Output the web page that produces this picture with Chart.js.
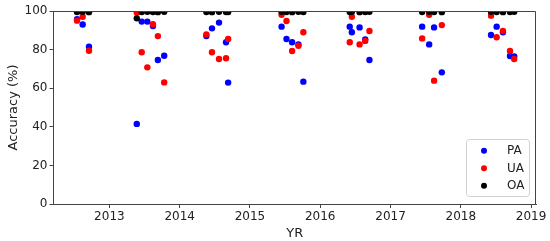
<!DOCTYPE html>
<html>
<head>
<meta charset="utf-8">
<script src="https://cdn.jsdelivr.net/npm/chart.js@4.4.0/dist/chart.umd.min.js"></script>
<style>
  html, body { margin: 0; padding: 0; background: #fff; }
  #wrap { width: 550px; height: 241px; }
</style>
</head>
<body>
<div id="wrap"><canvas id="chart1" width="550" height="241"></canvas></div>
<script>
// survey dates (decimal years) and accuracies
var dates = [2012.54, 2012.62, 2012.71,
             2013.39, 2013.46, 2013.54, 2013.62, 2013.69, 2013.78,
             2014.38, 2014.46, 2014.56, 2014.66, 2014.69,
             2015.45, 2015.52, 2015.60, 2015.69, 2015.76,
             2016.42, 2016.45, 2016.56, 2016.64, 2016.70,
             2017.45, 2017.55, 2017.62, 2017.73,
             2018.43, 2018.51, 2018.60, 2018.70, 2018.76];

var pa = [95.7, 93, 81.5,
          41.5, 94.5, 94.5, 92.2, 74.6, 76.8,
          87, 91, 94, 83.8, 62.9,
          91.9, 85.5, 83.8, 82.7, 63.4,
          91.9, 89, 91.5, 85.3, 74.6,
          91.9, 82.7, 91.5, 68.2,
          87.6, 91.9, 89, 76.7, 76.5];

var ua = [95, 97, 79.4,
          99.1, 78.6, 70.8, 93.1, 87, 63,
          87.9, 78.6, 75.1, 75.5, 85.5,
          98, 94.8, 79.3, 82, 89,
          83.8, 97, 82.7, 84.5, 89.6,
          85.8, 98, 63.9, 92.7,
          97.6, 86.4, 89.6, 79.3, 75.1];

var oa = [99.5, 99.6, 99.4,
          96.2, 99.5, 99.6, 99.5, 99.4, 99.6,
          99.5, 99.4, 99.6, 99.5, 99.5,
          99.6, 99.5, 99.4, 99.6, 99.5,
          99.5, 99.6, 99.4, 99.5, 99.6,
          99.5, 99.6, 99.5, 99.4,
          99.6, 99.5, 99.4, 99.5, 99.6];

var yearTicks = [2013, 2014, 2015, 2016, 2017, 2018, 2019];
var yTicks = [0, 20, 40, 60, 80, 100];

function pts(ys) {
  return dates.map(function (d, i) { return {x: d, y: ys[i]}; });
}

var font = 'DejaVu Sans';

// legend box inside the plot, bottom right, plus top/right spines
var boxPlugin = {
  id: 'boxLegend',
  afterDraw: function (chart) {
    var ctx = chart.ctx, a = chart.chartArea;
    ctx.save();
    ctx.strokeStyle = '#444';
    ctx.lineWidth = 1;
    ctx.beginPath();
    ctx.moveTo(a.left, a.top + 0.5);
    ctx.lineTo(a.right - 0.5, a.top + 0.5);
    ctx.lineTo(a.right - 0.5, a.bottom);
    ctx.stroke();

    var bx = 466.5, by = 139.5, bw = 63, bh = 57, r = 3;
    ctx.fillStyle = 'rgba(255,255,255,0.8)';
    ctx.strokeStyle = '#d0d0d0';
    ctx.beginPath();
    ctx.moveTo(bx + r, by);
    ctx.arcTo(bx + bw, by, bx + bw, by + bh, r);
    ctx.arcTo(bx + bw, by + bh, bx, by + bh, r);
    ctx.arcTo(bx, by + bh, bx, by, r);
    ctx.arcTo(bx, by, bx + bw, by, r);
    ctx.closePath();
    ctx.fill();
    ctx.stroke();

    ctx.font = '12px "' + font + '"';
    ctx.textBaseline = 'middle';
    chart.data.datasets.forEach(function (ds, i) {
      var yy = 150.7 + i * 17.5;
      ctx.fillStyle = ds.backgroundColor;
      ctx.beginPath();
      ctx.arc(484, yy, 3, 0, Math.PI * 2);
      ctx.fill();
      ctx.fillStyle = '#222';
      ctx.fillText(ds.label, 507, yy + 0.5);
    });
    ctx.restore();
  }
};

var graph = document.getElementById('chart1');

var myChart = new Chart(graph, {
  type: 'scatter',
  data: {
    datasets: [{
      label: 'PA',
      data: pts(pa),
      backgroundColor: '#0000ff',
      borderWidth: 0,
      order: 3
    }, {
      label: 'UA',
      data: pts(ua),
      backgroundColor: '#ff0000',
      borderWidth: 0,
      order: 2
    }, {
      label: 'OA',
      data: pts(oa),
      backgroundColor: '#000000',
      borderWidth: 0,
      order: 1
    }]
  },
  options: {
    responsive: false,
    animation: false,
    layout: { padding: { top: 11, right: 14, left: 0, bottom: 0 } },
    elements: { point: { radius: 3.2, hoverRadius: 3.2, borderWidth: 0 } },
    plugins: {
      legend: { display: false },
      tooltip: { enabled: false }
    },
    scales: {
      x: {
        type: 'linear',
        min: 2012.205,
        max: 2019.07,
        afterBuildTicks: function (s) {
          s.ticks = yearTicks.map(function (v) { return {value: v}; });
        },
        afterFit: function (s) { s.height = 37; },
        grid: { display: true, drawOnChartArea: false, drawTicks: true, tickLength: 4, color: '#444' },
        border: { display: true, color: '#444', width: 1 },
        ticks: {
          color: '#222',
          padding: 2,
          maxRotation: 0,
          font: { family: font, size: 12 },
          callback: function (v) { return String(v); }
        },
        title: {
          display: true,
          text: 'YR',
          color: '#222',
          font: { family: font, size: 13 },
          padding: { top: 1, bottom: 0 }
        }
      },
      y: {
        min: 0,
        max: 100,
        afterBuildTicks: function (s) {
          s.ticks = yTicks.map(function (v) { return {value: v}; });
        },
        afterFit: function (s) { s.width = 53.5; },
        grid: { display: true, drawOnChartArea: false, drawTicks: true, tickLength: 4, color: '#444' },
        border: { display: true, color: '#444', width: 1 },
        ticks: {
          color: '#222',
          padding: 2,
          font: { family: font, size: 12 },
          callback: function (v) { return String(v); }
        },
        title: {
          display: true,
          text: 'Accuracy (%)',
          color: '#222',
          font: { family: font, size: 13 },
          padding: { top: 6, bottom: 0 }
        }
      }
    }
  },
  plugins: [boxPlugin]
});
</script>
</body>
</html>
